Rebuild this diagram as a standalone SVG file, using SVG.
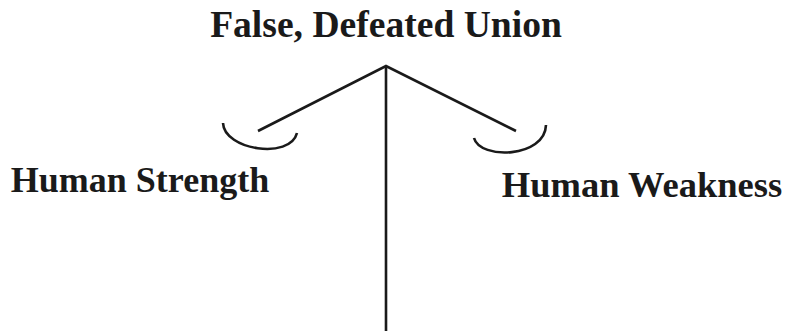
<svg xmlns="http://www.w3.org/2000/svg" width="785" height="331" viewBox="0 0 785 331">
<style>
.t{font-family:"Liberation Serif","Times New Roman",serif;font-weight:bold;font-size:36px;fill:#1a1a1a;text-anchor:middle}
.l{stroke:#1a1a1a;stroke-width:2.6;fill:none;stroke-linecap:butt}
</style>
<rect width="785" height="331" fill="#fff"/>
<g id="union"><text class="t" x="386" y="37" style="font-size:37.6px">False, Defeated Union</text></g>
<g id="strength"><text class="t" x="140" y="192">Human Strength</text><path class="l" d="M223,123 C224,150 290,160 297,133"/></g>
<g id="weakness"><text class="t" x="642" y="197" style="font-size:36.5px">Human Weakness</text><path class="l" d="M474,138 C480,160 545,158 546,125"/></g>
<g id="connectors">
<path class="l" d="M386,66 V331"/>
<path class="l" d="M258,131 L386,66 L516,131"/>
</g>
</svg>
